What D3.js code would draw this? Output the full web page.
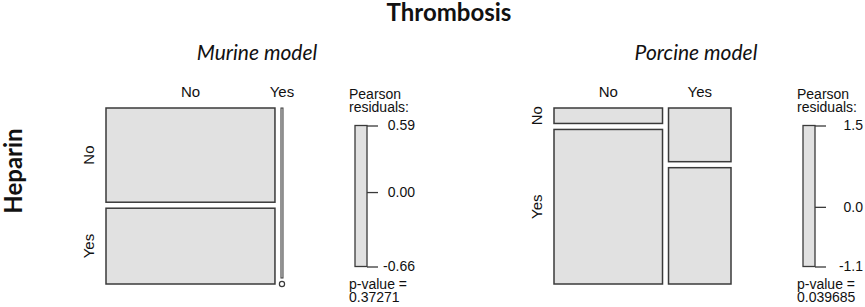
<!DOCTYPE html>
<html>
<head>
<meta charset="utf-8">
<script src="https://cdn.jsdelivr.net/npm/d3@7"></script>
<style>
  body { margin: 0; background: #fff; }
  text { font-family: "Liberation Sans", Arial, sans-serif; fill: #111; }
  .big { font-family: Lato, "Open Sans", sans-serif; }
</style>
</head>
<body>
<div id="chart"></div>
<script>
// columns = Thrombosis, rows = Heparin
var thrombosis = ['No', 'Yes'];
var heparin = ['No', 'Yes'];

// counts[thrombosis][heparin]
var murineCounts = [[46, 37], [1, 0]];
var porcineCounts = [[3, 30], [6, 13]];

var murineTicks = [0.59, 0.00, -0.66];
var murineTickLabels = ['0.59', '0.00', '-0.66'];
var porcineTicks = [1.5, 0.0, -1.1];
var porcineTickLabels = ['1.5', '0.0', '-1.1'];

var murinePValue = '0.37271';
var porcinePValue = '0.039685';

var titles = ['Murine model', 'Porcine model'];

var width = 865, height = 307;

var svg = d3.select('#chart')
  .append('svg')
  .attr('width', width)
  .attr('height', height);

var fill = '#e1e1e1',
  stroke = '#3a3a3a';

var mosW = 177, mosH = 176, gap = 6, mosTop = 108;

svg.append('text')
  .attr('class', 'big')
  .attr('x', 449)
  .attr('y', 21)
  .attr('text-anchor', 'middle')
  .style('font-weight', 'bold')
  .style('font-size', '24px')
  .text('Thrombosis');

svg.append('text')
  .attr('class', 'big')
  .attr('transform', 'translate(22,171) rotate(-90)')
  .attr('text-anchor', 'middle')
  .style('font-weight', 'bold')
  .style('font-size', '24px')
  .text('Heparin');

var panels = [
  { title: titles[0], titleX: 257, x0: 106, legX: 349, counts: murineCounts,
    ticks: murineTicks, tickLabels: murineTickLabels, p: murinePValue },
  { title: titles[1], titleX: 696, x0: 554, legX: 797, counts: porcineCounts,
    ticks: porcineTicks, tickLabels: porcineTickLabels, p: porcinePValue }
];

panels.forEach(drawPanel);

function drawPanel(p) {
  var g = svg.append('g');

  g.append('text')
    .attr('class', 'big')
    .attr('x', p.titleX)
    .attr('y', 60)
    .attr('text-anchor', 'middle')
    .style('font-style', 'italic')
    .style('font-size', '21px')
    .text(p.title);

  var colTotals = p.counts.map(function(c) { return d3.sum(c); });
  var total = d3.sum(colTotals);

  var xScale = d3.scaleLinear()
    .domain([0, total])
    .range([0, mosW - gap * (colTotals.length - 1)]);

  var cum = 0;
  p.counts.forEach(function(col, j) {
    var cx = p.x0 + xScale(cum) + j * gap;
    var cw = xScale(colTotals[j]);
    cum += colTotals[j];

    // column label
    g.append('text')
      .attr('x', cx + cw / 2)
      .attr('y', 97)
      .attr('text-anchor', 'middle')
      .style('font-size', '15px')
      .text(thrombosis[j]);

    var yScale = d3.scaleLinear()
      .domain([0, colTotals[j]])
      .range([0, mosH - gap * (col.length - 1)]);

    var rc = 0;
    col.forEach(function(v, i) {
      var cy = mosTop + yScale(rc) + i * gap;
      var ch = yScale(v);
      rc += v;
      if (v === 0) {
        g.append('circle')
          .attr('cx', cx + cw / 2)
          .attr('cy', cy)
          .attr('r', 2.6)
          .attr('fill', '#fff')
          .attr('stroke', stroke)
          .attr('stroke-width', 1.2);
      } else {
        g.append('rect')
          .attr('x', cx)
          .attr('y', cy)
          .attr('width', cw)
          .attr('height', ch)
          .attr('fill', fill)
          .attr('stroke', stroke)
          .attr('stroke-width', cw < 5 ? 1 : 1.5);
      }
      // row labels from the first column
      if (j === 0) {
        g.append('text')
          .attr('transform', 'translate(' + (p.x0 - 12) + ',' + (cy + ch / 2) + ') rotate(-90)')
          .attr('text-anchor', 'middle')
          .style('font-size', '15px')
          .text(heparin[i]);
      }
    });
  });

  // legend
  var lx = p.legX;
  g.append('text').attr('x', lx).attr('y', 99).style('font-size', '14px').text('Pearson');
  g.append('text').attr('x', lx).attr('y', 112).style('font-size', '14px').text('residuals:');

  var barX = lx + 6, barW = 12, barTop = 125.5, barBot = 266.5;
  var rScale = d3.scaleLinear()
    .domain([d3.min(p.ticks), d3.max(p.ticks)])
    .range([barBot, barTop]);

  g.append('rect')
    .attr('x', barX)
    .attr('y', barTop)
    .attr('width', barW)
    .attr('height', barBot - barTop)
    .attr('fill', fill)
    .attr('stroke', stroke)
    .attr('stroke-width', 1.3);

  var axis = d3.axisRight(rScale)
    .tickValues(p.ticks)
    .tickFormat(function(d, i) { return p.tickLabels[i]; })
    .tickSize(11)
    .tickPadding(0);

  var ax = g.append('g')
    .attr('transform', 'translate(' + (barX + barW) + ',0)')
    .call(axis);
  ax.select('.domain').remove();
  ax.selectAll('line').attr('stroke', stroke).attr('stroke-width', 1.3);
  ax.selectAll('text')
    .attr('x', 48)
    .attr('text-anchor', 'end')
    .style('font-family', '"Liberation Sans", Arial, sans-serif')
    .style('font-size', '14px')
    .attr('fill', '#111');

  g.append('text').attr('x', lx).attr('y', 289).style('font-size', '14px').text('p-value =');
  g.append('text').attr('x', lx).attr('y', 302).style('font-size', '14px').text(p.p);
}
</script>
</body>
</html>
